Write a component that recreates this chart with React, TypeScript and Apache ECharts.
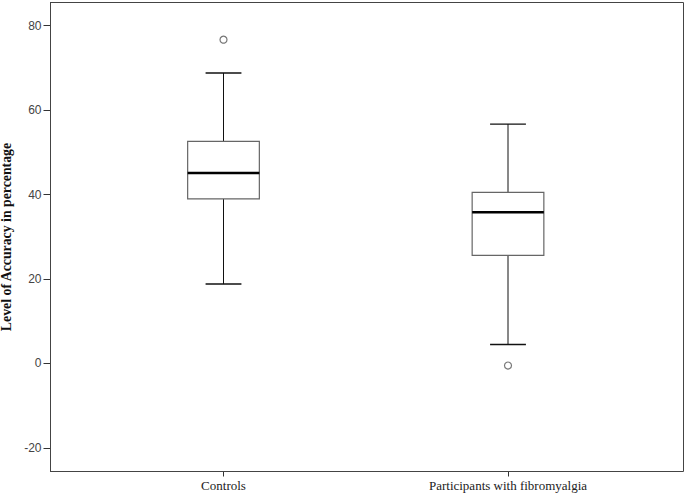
import React, { useEffect, useRef } from "react";
import * as echarts from "echarts";

const categories = ["Controls", "Participants with fibromyalgia"];
// [lowerWhisker, Q1, median, Q3, upperWhisker]
const boxValues = [
  [18.8, 39.0, 45.1, 52.6, 68.8],
  [4.5, 25.6, 35.8, 40.5, 56.7],
];
const outliers = [
  [0, 76.7],
  [1, -0.5],
];
const yTicks = [-20, 0, 20, 40, 60, 80];
const yMin = -25.6;
const yMax = 85.5;

export default function App() {
  const ref = useRef<HTMLDivElement>(null);
  useEffect(() => {
    if (!ref.current) return;
    document.body.style.margin = "0";
    const chart = echarts.init(ref.current, null, { renderer: "svg" });
    const boxData = boxValues.map((v, i) => [i, ...v]);
    chart.setOption({
      animation: false,
      backgroundColor: "#ffffff",
      grid: {
        left: 81.25,
        right: 34.75,
        top: 2.5,
        bottom: 21.5,
        containLabel: false,
        outerBoundsMode: "none",
      },
      graphic: [
        {
          type: "rect",
          shape: { x: 50.5, y: 2.5, width: 633, height: 469 },
          style: { fill: "none", stroke: "#444", lineWidth: 1 },
          silent: true,
          z: 10,
        },
      ],
      xAxis: {
        type: "category",
        data: categories,
        boundaryGap: true,
        axisLine: { show: false, onZero: false },
        axisTick: {
          show: true,
          alignWithLabel: true,
          length: 5,
          lineStyle: { color: "#333" },
        },
        axisLabel: {
          margin: 7,
          color: "#222",
          fontFamily: "Liberation Serif",
          fontSize: 13,
        },
        splitLine: { show: false },
      },
      yAxis: {
        type: "value",
        min: yMin,
        max: yMax,
        offset: 30.75,
        name: "Level of Accuracy in percentage",
        nameLocation: "middle",
        nameGap: 36,
        nameTextStyle: {
          fontFamily: "Liberation Serif",
          fontWeight: "bold",
          fontSize: 13.8,
          color: "#111",
        },
        axisLine: { show: true, lineStyle: { color: "#333" } },
        axisTick: {
          show: true,
          length: 7,
          customValues: yTicks,
          lineStyle: { color: "#333" },
        },
        axisLabel: {
          margin: 9,
          customValues: yTicks,
          color: "#444",
          fontFamily: "Liberation Sans",
          fontSize: 12,
        },
        splitLine: { show: false },
      },
      series: [
        {
          type: "custom",
          data: boxData,
          encode: { x: 0, y: [1, 2, 3, 4, 5] },
          renderItem: (params: any, api: any) => {
            const x = api.value(0);
            const band = api.size([1, 0])[0];
            const half = band * 0.126;
            const capHalf = half / 2;
            const pLow = api.coord([x, api.value(1)]);
            const pQ1 = api.coord([x, api.value(2)]);
            const pMed = api.coord([x, api.value(3)]);
            const pQ3 = api.coord([x, api.value(4)]);
            const pHigh = api.coord([x, api.value(5)]);
            const cx = pMed[0];
            return {
              type: "group",
              children: [
                {
                  type: "line",
                  shape: { x1: cx, y1: pHigh[1], x2: cx, y2: pQ3[1] },
                  style: { stroke: "#111", lineWidth: 1 },
                },
                {
                  type: "line",
                  shape: { x1: cx, y1: pQ1[1], x2: cx, y2: pLow[1] },
                  style: { stroke: "#111", lineWidth: 1 },
                },
                {
                  type: "line",
                  shape: { x1: cx - capHalf, y1: pHigh[1], x2: cx + capHalf, y2: pHigh[1] },
                  style: { stroke: "#111", lineWidth: 1.3 },
                },
                {
                  type: "line",
                  shape: { x1: cx - capHalf, y1: pLow[1], x2: cx + capHalf, y2: pLow[1] },
                  style: { stroke: "#111", lineWidth: 1.6 },
                },
                {
                  type: "rect",
                  shape: {
                    x: cx - half,
                    y: pQ3[1],
                    width: half * 2,
                    height: pQ1[1] - pQ3[1],
                  },
                  style: { fill: "#fff", stroke: "#666", lineWidth: 1.2 },
                },
                {
                  type: "line",
                  shape: { x1: cx - half, y1: pMed[1], x2: cx + half, y2: pMed[1] },
                  style: { stroke: "#000", lineWidth: 2.6 },
                },
              ],
            };
          },
        },
        {
          type: "scatter",
          data: outliers,
          symbol: "circle",
          symbolSize: 7,
          itemStyle: { color: "#fff", borderColor: "#555", borderWidth: 1.2 },
        },
      ],
    });
    return () => chart.dispose();
  }, []);
  return <div ref={ref} style={{ width: 685, height: 493 }} />;
}
